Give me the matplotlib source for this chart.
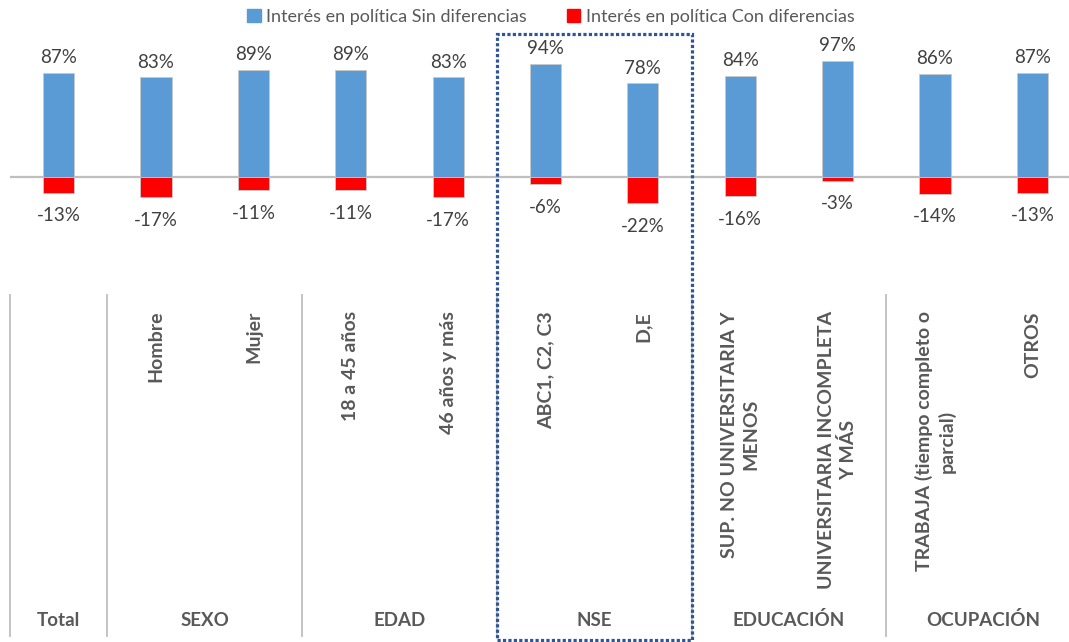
import matplotlib

matplotlib.use("Agg")
import matplotlib.pyplot as plt
from matplotlib.patches import Patch, Rectangle
import numpy as np

plt.rcParams["font.family"] = ["Lato", "DejaVu Sans"]

# data
categories = ["", "Hombre", "Mujer", "18 a 45 años", "46 años y más",
              "ABC1, C2, C3", "D,E", "SUP. NO UNIVERSITARIA Y\nMENOS",
              "UNIVERSITARIA INCOMPLETA\nY MÁS",
              "TRABAJA (tiempo completo o\nparcial)", "OTROS"]
groups = ["Total", "SEXO", "EDAD", "NSE", "EDUCACIÓN", "OCUPACIÓN"]
group_sizes = [1, 2, 2, 2, 2, 2]
sin_dif = [87, 83, 89, 89, 83, 94, 78, 84, 97, 86, 87]
con_dif = [-13, -17, -11, -11, -17, -6, -22, -16, -3, -14, -13]
series_names = ["Interés en política Sin diferencias",
                "Interés en política Con diferencias"]

BLUE = "#5B9BD5"
RED = "#FF0000"
GRID = "#BFBFBF"
TXT = "#595959"

W, H = 1069, 642
PX = 1.2          # pixels per percentage point
ZERO = 177        # zero line, pixels from top

fig = plt.figure(figsize=(W / 100, H / 100), dpi=100)
ax = fig.add_axes([10 / W, 0, 1071 / W, 1])
ax.set_xlim(-0.5, 10.5)
ax.set_ylim(-(H - ZERO) / PX, ZERO / PX)
ax.axis("off")


def yf(px):
    """pixel row from top -> axes fraction"""
    return 1 - px / H


x = np.arange(len(categories))
ax.bar(x, sin_dif, width=0.32, color=BLUE, edgecolor="#C8C8C8", lw=0.6, zorder=3)
ax.bar(x, con_dif, width=0.32, color=RED, edgecolor="#C8C8C8", lw=0.6, zorder=3)
ax.axhline(0, color=GRID, lw=1.6, zorder=2)

for xi, v in zip(x, sin_dif):
    ax.annotate(f"{v}%", (xi, v), xytext=(0, 11), textcoords="offset points",
                ha="center", va="center", fontsize=13.5, color="#404040")
for xi, v in zip(x, con_dif):
    ax.annotate(f"{v}%", (xi, v), xytext=(0, -16.5), textcoords="offset points",
                ha="center", va="center", fontsize=13.5, color="#404040")

xt = ax.get_xaxis_transform()
for xi, lab in zip(x, categories):
    ax.text(xi, yf(311), lab, transform=xt, rotation=90, ha="center", va="top",
            multialignment="center", fontsize=14, fontweight="bold", color=TXT,
            linespacing=1.3)

# group separators and group names
bounds = np.concatenate([[0], np.cumsum(group_sizes)]) - 0.5
for b in bounds:
    ax.plot([b, b], [yf(295), yf(636)], transform=xt, color=GRID, lw=1.3,
            clip_on=False)
for g, a, b in zip(groups, bounds[:-1], bounds[1:]):
    ax.text((a + b) / 2, yf(620), g, transform=xt, ha="center", va="center",
            fontsize=13.5, fontweight="bold", color=TXT)

# dotted highlight around NSE
ax.add_patch(Rectangle((bounds[3], yf(640)), bounds[4] - bounds[3], yf(34) - yf(640),
                       transform=xt, fill=False, edgecolor="#2F5597", lw=2.3,
                       linestyle=(0, (1, 0.7)), clip_on=False, zorder=5))

handles = [Patch(color=BLUE), Patch(color=RED)]
fig.legend(handles, series_names, loc="center", bbox_to_anchor=(551 / W, yf(17)),
           ncol=2, frameon=False, fontsize=13, labelcolor=TXT, handlelength=0.75,
           handleheight=0.75, handletextpad=0.3, columnspacing=2.2)

fig.savefig("out.png", dpi=100)
